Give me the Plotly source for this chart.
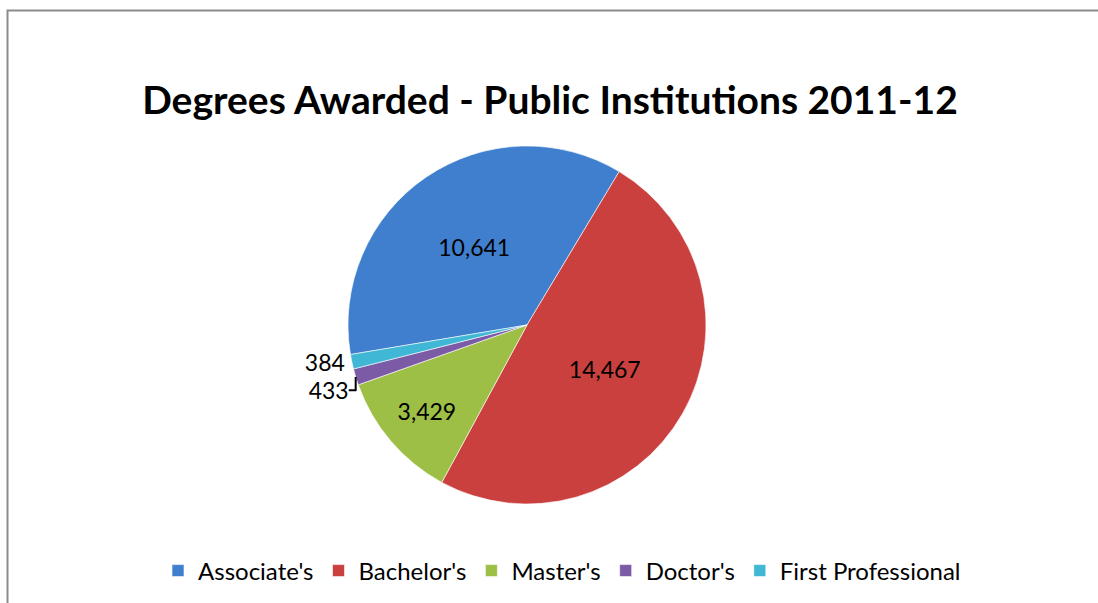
import plotly.graph_objects as go

categories = ["Associate's", "Bachelor's", "Master's", "Doctor's", "First Professional"]
values = [10641, 14467, 3429, 433, 384]
colors = ["#3F7FCE", "#CA403E", "#9DBF45", "#7B5AA6", "#40B7D5"]
label_positions = ["inside", "inside", "inside", "outside", "outside"]

W, H = 1098, 603
cx, cy, r = 527, 325, 179

fig = go.Figure(go.Pie(
    labels=categories,
    values=values,
    sort=False,
    direction="clockwise",
    rotation=-99.5,
    marker=dict(colors=colors, line=dict(color="rgba(255,255,255,0.6)", width=1)),
    texttemplate="%{value:,}",
    textposition=label_positions,
    insidetextorientation="horizontal",
    textfont=dict(family="Lato", size=23, color="black"),
    outsidetextfont=dict(family="Lato", size=23, color="black"),
    domain=dict(x=[(cx - r) / W, (cx + r) / W], y=[1 - (cy + r) / H, 1 - (cy - r) / H]),
    hoverinfo="label+value",
))

fig.update_layout(
    width=W, height=H,
    margin=dict(l=0, r=0, t=0, b=0, autoexpand=False),
    paper_bgcolor="white",
    plot_bgcolor="white",
    title=dict(text="<b>Degrees Awarded - Public Institutions 2011-12</b>",
               x=550 / W, xanchor="center", y=1 - 100 / H, yanchor="middle",
               font=dict(family="Lato", size=39, color="black")),
    legend=dict(orientation="h", x=562 / W, xanchor="center", y=1 - 571 / H, yanchor="middle",
                font=dict(family="Lato", size=24, color="black"), itemwidth=30),
    shapes=[dict(type="rect", xref="paper", yref="paper",
                 x0=7.5 / W, x1=1.05, y0=-0.05, y1=1 - 10.5 / H,
                 line=dict(color="#8C8C8C", width=2), fillcolor="rgba(0,0,0,0)")],
)

fig.write_html("out.html", config={"displayModeBar": False},
               post_script="document.body.style.margin='0';document.body.style.overflow='hidden';")
